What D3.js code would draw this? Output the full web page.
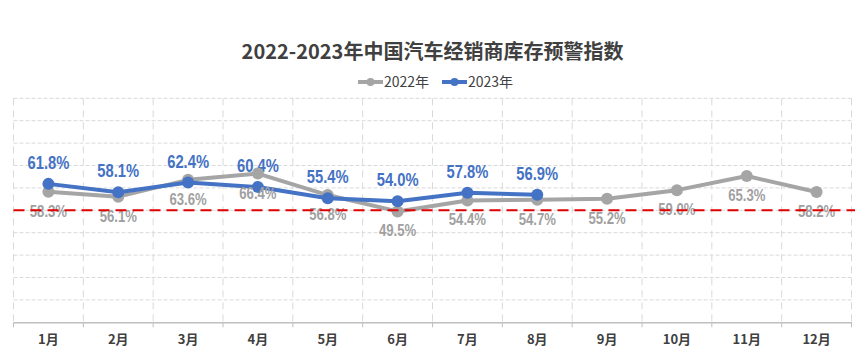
<!DOCTYPE html>
<html><head><meta charset="utf-8">
<script src="https://cdn.jsdelivr.net/npm/d3@7"></script>
<style>
html,body{margin:0;padding:0;background:#fff;}
svg{display:block;}
</style>
</head><body>
<svg id="chart" width="865" height="360"></svg>
<script>
const title = "2022-2023年中国汽车经销商库存预警指数";
const months = ["1月","2月","3月","4月","5月","6月","7月","8月","9月","10月","11月","12月"];
const series2022 = [58.3,56.1,63.6,66.4,56.8,49.5,54.4,54.7,55.2,59.0,65.3,58.2];
const series2023 = [61.8,58.1,62.4,60.4,55.4,54.0,57.8,56.9];
const seriesNames = ["2022年","2023年"];
const warningLine = 50;
const yTicks = [0,10,20,30,40,50,60,70,80,90,100];

const colors = {g:"#a5a5a5", gt:"#a0a0a0", b:"#4472c4", red:"#e00000", grid:"#d9d9d9"};
const svg = d3.select("#chart");
const W = 865, H = 360;
const m = {left:13.5, right:13.5, top:98.3, bottom:37.7};

const x = d3.scaleBand().domain(months).range([m.left, W - m.right]).padding(0);
const y = d3.scaleLinear().domain([0,100]).range([H - m.bottom, m.top]);
const cx = d => x(d) + x.bandwidth()/2;

const cn = "'Noto Sans CJK SC', 'Noto Sans', sans-serif";
const sans = "'Liberation Sans', Arial, sans-serif";
const squeeze = 0.82;

// title
svg.append("text").attr("x", W/2).attr("y", 59).attr("text-anchor","middle")
  .attr("font-family", cn).attr("font-weight","bold").attr("font-size", 20)
  .attr("fill","#404040").text(title);

// legend
const legend = [{name:seriesNames[0], c:colors.g, x0:358},{name:seriesNames[1], c:colors.b, x0:442}];
legend.forEach(l => {
  const g = svg.append("g");
  g.append("line").attr("x1", l.x0).attr("x2", l.x0+25).attr("y1", 82).attr("y2", 82)
    .attr("stroke", l.c).attr("stroke-width", 4);
  g.append("circle").attr("cx", l.x0+12.5).attr("cy", 82).attr("r", 4).attr("fill", l.c);
  g.append("text").attr("x", l.x0+26).attr("y", 87).attr("font-family", cn)
    .attr("font-size", 14).attr("fill","#404040").text(l.name);
});

// horizontal grid
svg.append("g").selectAll("line").data(yTicks.filter(t => t > 0)).join("line")
  .attr("x1", m.left).attr("x2", W - m.right)
  .attr("y1", d => y(d)).attr("y2", d => y(d))
  .attr("stroke", colors.grid).attr("stroke-width", 1).attr("stroke-dasharray","4,2");

// vertical grid (band boundaries)
const bounds = months.map(d => x(d)).concat([W - m.right]);
svg.append("g").selectAll("line").data(bounds).join("line")
  .attr("x1", d => d).attr("x2", d => d)
  .attr("y1", m.top).attr("y2", y(0))
  .attr("stroke", colors.grid).attr("stroke-width", 1).attr("stroke-dasharray","7,5");

// x axis
const xAxis = d3.axisBottom(x).tickSize(0).tickPadding(12);
const ax = svg.append("g").attr("transform", `translate(0,${y(0)})`).call(xAxis);
ax.select(".domain").attr("stroke","#bfbfbf").attr("stroke-width",1.5);
ax.selectAll("text").attr("font-family", cn).attr("font-weight","bold")
  .attr("font-size", 13).attr("fill","#404040");
svg.append("g").selectAll("line").data(bounds).join("line")
  .attr("x1", d => d).attr("x2", d => d).attr("y1", y(0)).attr("y2", y(0)+5)
  .attr("stroke","#bfbfbf").attr("stroke-width",1);

function labels(data, dy, size, color) {
  svg.append("g").selectAll("text").data(data).join("text")
    .attr("transform", (d,i) => `translate(${cx(months[i])},${y(d) + dy}) scale(${squeeze},1)`)
    .attr("text-anchor","middle").attr("font-family", sans).attr("font-weight","bold")
    .attr("font-size", size).attr("fill", color).text(d => d.toFixed(1) + "%");
}

// 2023 labels (drawn first, under lines)
labels(series2023, -15, 18, colors.b);

const line = d3.line().x((d,i) => cx(months[i])).y(d => y(d));

// 2022 line
svg.append("path").datum(series2022).attr("d", line).attr("fill","none")
  .attr("stroke", colors.g).attr("stroke-width", 4).attr("stroke-linejoin","round");
svg.append("g").selectAll("circle").data(series2022).join("circle")
  .attr("cx", (d,i) => cx(months[i])).attr("cy", d => y(d)).attr("r", 6).attr("fill", colors.g);

// 2023 line
svg.append("path").datum(series2023).attr("d", line).attr("fill","none")
  .attr("stroke", colors.b).attr("stroke-width", 4).attr("stroke-linejoin","round");
svg.append("g").selectAll("circle").data(series2023).join("circle")
  .attr("cx", (d,i) => cx(months[i])).attr("cy", d => y(d)).attr("r", 6).attr("fill", colors.b);

// 2022 labels
labels(series2022, 25, 16, colors.gt);

// warning line
svg.append("line").attr("x1", m.left).attr("x2", W - 10)
  .attr("y1", y(warningLine)).attr("y2", y(warningLine))
  .attr("stroke", colors.red).attr("stroke-width", 2).attr("stroke-dasharray","11,6");
</script>
</body></html>
